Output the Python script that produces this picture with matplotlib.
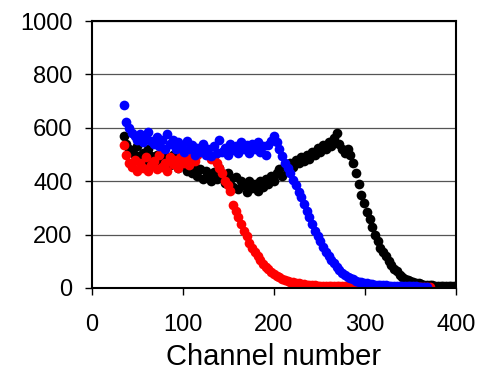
import matplotlib.pyplot as plt

plt.rcParams['font.family'] = ['Liberation Sans', 'DejaVu Sans']

# channel numbers (every 3rd channel), counts
channels = list(range(35, 404, 3))

black = [570, 540, 520, 510, 500, 530, 490, 505, 480, 520,
         495, 470, 500, 480, 510, 470, 490, 460, 500, 475,
         450, 485, 460, 440, 470, 430, 455, 420, 445, 410,
         440, 420, 400, 435, 410, 450, 420, 395, 430, 405,
         380, 415, 370, 400, 385, 360, 400, 375, 390, 365,
         400, 380, 410, 390, 420, 400, 430, 445, 420, 460,
         440, 470, 455, 480, 470, 490, 475, 500, 485, 510,
         500, 525, 510, 535, 520, 545, 530, 560, 580, 540,
         520, 505, 520, 500, 470, 430, 390, 350, 320, 285,
         260, 230, 200, 175, 150, 135, 120, 100, 85, 72,
         62, 50, 42, 35, 30, 25, 22, 19, 17, 15,
         13, 12, 11, 10, 9, 9, 8, 8, 7, 7,
         6, 6, 5]

red = [535, 500, 470, 455, 480, 440, 470, 450, 490, 440,
       460, 475, 445, 500, 455, 470, 440, 490, 465, 480,
       450, 495, 470, 485, 460, 490, 475, 500, 520, 530,
       510, 500, 485, 490, 470, 450, 430, 400, 385, 365,
       310, 290, 265, 240, 215, 195, 170, 150, 135, 120,
       105, 90, 80, 70, 60, 52, 45, 40, 35, 30,
       27, 24, 21, 19, 17, 15, 14, 13, 12, 11,
       10, 9, 9, 8, 8, 7, 7, 7, 6, 6,
       6, 6, 6, 5, 5, 5, 5, 5, 5, 5,
       5, 5, 4, 4, 4, 4, 4, 4, 4, 4,
       4, 4, 4, 4, 4, 4, 4, 4, 4, 4,
       4, 4, 4]

blue = [685, 620, 600, 580, 570, 555, 575, 545, 560, 585,
        550, 540, 565, 530, 555, 520, 575, 540, 555, 520,
        545, 530, 510, 550, 520, 535, 500, 525, 510, 540,
        500, 520, 495, 530, 505, 555, 510, 525, 500, 540,
        515, 530, 505, 545, 520, 535, 505, 540, 520, 545,
        510, 530, 500, 535, 550, 570, 545, 520, 495, 470,
        450, 430, 405, 385, 360, 340, 315, 290, 265, 240,
        215, 195, 175, 155, 135, 120, 105, 92, 80, 68,
        58, 50, 43, 37, 32, 28, 24, 21, 19, 17,
        15, 14, 13, 12, 11, 10, 10, 9, 9, 8,
        8, 7, 7, 7, 6, 6, 6, 6, 5, 5,
        5, 5]

fig = plt.figure(figsize=(4.81, 3.75), dpi=100)
ax = fig.add_axes([0.191, 0.232, 0.757, 0.712])

ax.plot(channels[:len(black)], black, 'o', color='black', ms=7, mew=0)
ax.plot(channels[:len(red)], red, 'o', color='red', ms=7, mew=0)
ax.plot(channels[:len(blue)], blue, 'o', color='blue', ms=7, mew=0)

ax.set_xlim(0, 400)
ax.set_ylim(0, 1000)
ax.set_xticks([0, 100, 200, 300, 400])
ax.set_yticks([0, 200, 400, 600, 800, 1000])
ax.yaxis.grid(True, color='#555555', lw=0.9)
ax.set_axisbelow(True)
for s in ax.spines.values():
    s.set_linewidth(1.5)
ax.tick_params(axis='both', direction='out', length=5, width=1, labelsize=17)
ax.tick_params(axis='y', pad=9)
ax.tick_params(axis='x', pad=14)
ax.set_xlabel('Channel number', fontsize=21, labelpad=5)

fig.savefig('out.png', dpi=100)
